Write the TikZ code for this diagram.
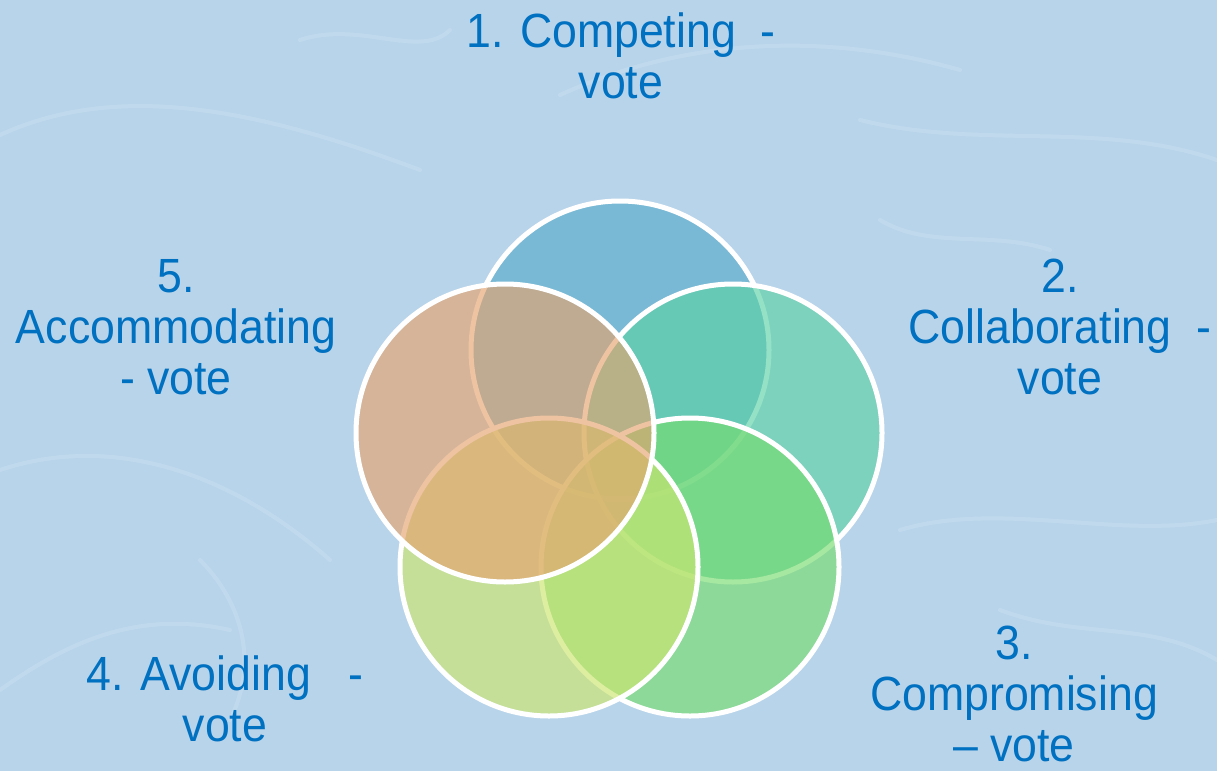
\documentclass[tikz,border=0pt]{standalone}
\usepackage{fontspec}
\newfontfamily\lblfont[FakeStretch=0.93]{Liberation Sans}
\definecolor{pool}{HTML}{B8D4EA}
\definecolor{ink}{HTML}{0070C0}
\definecolor{cBlue}{RGB}{90,172,203}
\definecolor{cTeal}{RGB}{92,210,166}
\definecolor{cGreen}{RGB}{119,220,111}
\definecolor{cLime}{RGB}{204,230,111}
\definecolor{cPeach}{RGB}{229,163,111}
\begin{document}
\begin{tikzpicture}[x=1pt,y=-1pt,
  blob/.style={circle, minimum size=298pt, inner sep=0pt, draw=white,
    line width=5pt, fill opacity=0.65},
  lbl/.style={anchor=north, inner sep=0pt, align=center, text=ink,
    font=\lblfont\fontsize{48}{51}\selectfont},
  ripple/.style={draw=white, line width=4pt, opacity=0.12, line cap=round}]
  % water background
  \fill[pool] (0,0) rectangle (1217,771);
  \useasboundingbox (0,0) rectangle (1217,771);
  \draw[ripple] (0,135) .. controls (120,80) and (260,110) .. (420,170);
  \draw[ripple] (560,95) .. controls (680,40) and (820,30) .. (960,70);
  \draw[ripple] (860,120) .. controls (980,150) and (1100,120) .. (1217,160);
  \draw[ripple] (0,470) .. controls (120,430) and (240,480) .. (330,560);
  \draw[ripple] (0,690) .. controls (70,640) and (140,610) .. (230,630);
  \draw[ripple] (900,530) .. controls (1000,500) and (1120,540) .. (1217,520);
  \draw[ripple] (1000,610) .. controls (1080,640) and (1150,620) .. (1217,660);
  \draw[ripple] (300,40) .. controls (360,20) and (420,60) .. (450,30);
  \draw[ripple] (200,560) .. controls (240,600) and (260,660) .. (230,720);
  \draw[ripple] (880,220) .. controls (930,250) and (990,230) .. (1050,250);
  % five overlapping circles
  \node[blob, fill=cBlue]  (c1) at (620,350) {};
  \node[blob, fill=cTeal]  (c2) at (733,433) {};
  \node[blob, fill=cGreen] (c3) at (690,567) {};
  \node[blob, fill=cLime]  (c4) at (549,567) {};
  \node[blob, fill=cPeach] (c5) at (505,433) {};
  % labels
  \node[lbl] (l1) at (621,13)  {1. Competing\ \ -\\vote};
  \node[lbl] (l2) at (1060,259) {2.\\Collaborating\ \ -\\vote};
  \node[lbl] (l3) at (1014,626) {3.\\Compromising\\– vote};
  \node[lbl] (l4) at (225,656) {4. Avoiding\ \ \ -\\vote};
  \node[lbl] (l5) at (176,259) {5.\\Accommodating\\- vote};
\end{tikzpicture}
\end{document}
